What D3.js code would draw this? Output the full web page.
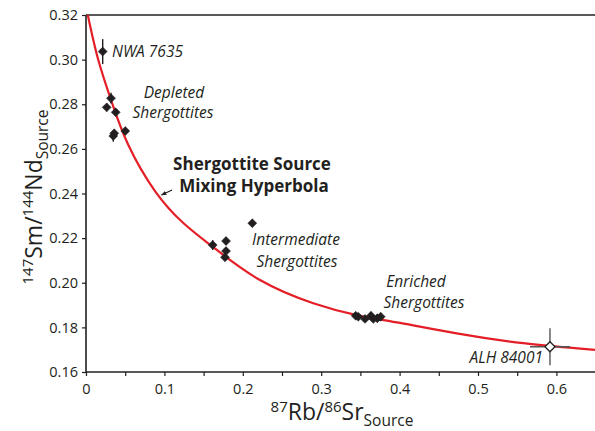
<!DOCTYPE html>
<html><head><meta charset="utf-8">
<script src="https://cdn.jsdelivr.net/npm/d3@7"></script>
<style>
body{margin:0;background:#fff}
svg{display:block}
text{font-family:"Open Sans","Noto Sans",sans-serif;fill:#231f20}
</style>
</head><body>
<svg id="c" width="595" height="431"></svg>
<script>
// ---- data ----
const xTickValues=[0,0.05,0.1,0.15,0.2,0.25,0.3,0.35,0.4,0.45,0.5,0.55,0.6];
const xTickLabels=["0","","0.1","","0.2","","0.3","","0.4","","0.5","","0.6"];
const yTickValues=[0.16,0.18,0.20,0.22,0.24,0.26,0.28,0.30,0.32];
const yTickLabels=["0.16","0.18","0.20","0.22","0.24","0.26","0.28","0.30","0.32"];

// mixing hyperbola
const curveX=[0.0023,0.0157,0.0332,0.054,0.088,0.1241,0.1624,0.2219,0.2899,0.3453,0.4005,0.4728,0.5578,0.6492];
const curveY=[0.3200,0.2998,0.2806,0.2617,0.2411,0.2268,0.2159,0.2012,0.1908,0.1855,0.1820,0.1773,0.1729,0.1699];

// samples
const nwaX=[0.0213], nwaY=[0.3036], nwaYErr=[0.0056];
const depletedX=[0.0319,0.0264,0.0379,0.0348,0.0360,0.0501];
const depletedY=[0.2827,0.2786,0.2764,0.2658,0.2670,0.2680];
const depletedYErr=[0.0024,0.0018,0,0.0026,0,0];
const intermediateX=[0.1616,0.1786,0.1786,0.1773,0.2121];
const intermediateY=[0.2169,0.2187,0.2142,0.2114,0.2267];
const intermediateYErr=[0.0022,0.0018,0,0,0];
const enrichedX=[0.3440,0.3473,0.3559,0.3635,0.3665,0.3716,0.3759];
const enrichedY=[0.1852,0.1848,0.1838,0.1852,0.1838,0.1841,0.1848];
const enrichedYErr=[0,0,0,0.0018,0,0.0018,0.0018];
const alhX=[0.5918], alhY=[0.1713], alhXErr=[0.0255], alhYErr=[0.0083];

// ---- chart ----
const svg=d3.select("#c");
const ink="#231f20";
const x=d3.scaleLinear().domain([0,0.65]).range([86,595.6]);
const y=d3.scaleLinear().domain([0.16,0.32]).range([372,15]);

svg.append("defs").append("clipPath").attr("id","clip")
  .append("rect").attr("x",86).attr("y",15).attr("width",510).attr("height",357);

// top frame line
svg.append("line").attr("x1",86).attr("x2",595).attr("y1",y(0.32)).attr("y2",y(0.32))
  .attr("stroke",ink).attr("stroke-width",1.4);

// axes
const xAxis=d3.axisBottom(x).tickValues(xTickValues).tickSize(4).tickPadding(5)
  .tickFormat((d,i)=>xTickLabels[i]);
const gx=svg.append("g").attr("transform",`translate(0,${y(0.16)})`).call(xAxis);
gx.select(".domain").attr("stroke",ink).attr("stroke-width",1.6).attr("d",`M86,0H595`);
gx.selectAll(".tick line").attr("stroke",ink).attr("stroke-width",1.2);
gx.selectAll(".tick text").style("font-size","14.5px").attr("fill",ink).attr("dy","0.9em");

const yAxis=d3.axisLeft(y).tickValues(yTickValues).tickSize(4).tickPadding(4)
  .tickFormat((d,i)=>yTickLabels[i]);
const gy=svg.append("g").attr("transform",`translate(${x(0)},0)`).call(yAxis);
gy.select(".domain").attr("stroke",ink).attr("stroke-width",1.6).attr("d",`M0,${y(0.16)}V${y(0.32)}`);
gy.selectAll(".tick line").attr("stroke",ink).attr("stroke-width",1.2);
gy.selectAll(".tick text").style("font-size","14.5px").attr("fill",ink);

// curve
const curvePts=curveX.map((v,i)=>[v,curveY[i]]);
svg.append("path").datum(curvePts).attr("clip-path","url(#clip)")
  .attr("d",d3.line().x(d=>x(d[0])).y(d=>y(d[1])).curve(d3.curveNatural))
  .attr("fill","none").attr("stroke","#e41e26").attr("stroke-width",2.2);

// points
function group(xs,ys,yerr,xerr,open){
  const g=svg.append("g");
  xs.forEach((xv,i)=>{
    const cx=x(xv), cy=y(ys[i]);
    if(yerr && yerr[i]) g.append("line").attr("x1",cx).attr("x2",cx)
      .attr("y1",y(ys[i]-yerr[i])).attr("y2",y(ys[i]+yerr[i]))
      .attr("stroke",open?"#555":ink).attr("stroke-width",1.4);
    if(xerr && xerr[i]) g.append("line").attr("y1",cy).attr("y2",cy)
      .attr("x1",x(xv-xerr[i])).attr("x2",x(xv+xerr[i]))
      .attr("stroke",open?"#555":ink).attr("stroke-width",1.4);
  });
  xs.forEach((xv,i)=>{
    g.append("path").attr("d",d3.symbol(d3.symbolSquare,open?50:40)())
      .attr("transform",`translate(${x(xv)},${y(ys[i])}) rotate(45)`)
      .attr("fill",open?"#fff":ink).attr("stroke",ink).attr("stroke-width",open?1.3:0.5);
  });
}
group(nwaX,nwaY,nwaYErr,null,false);
group(depletedX,depletedY,depletedYErr,null,false);
group(intermediateX,intermediateY,intermediateYErr,null,false);
group(enrichedX,enrichedY,enrichedYErr,null,false);
group(alhX,alhY,alhYErr,alhXErr,true);

// labels
function it(t,px,py,anchor){
  svg.append("text").attr("x",px).attr("y",py).attr("text-anchor",anchor||"start")
    .style("font-size","15.5px").style("font-style","italic").text(t);
}
it("NWA 7635",112,57);
it("Depleted",174,98,"middle");
it("Shergottites",173,118,"middle");
it("Intermediate",296,245,"middle");
it("Shergottites",297,267,"middle");
it("Enriched",416,287,"middle");
it("Shergottites",424,308,"middle");
it("ALH 84001",543,363,"end");

function bold(t,px,py){
  svg.append("text").attr("x",px).attr("y",py).attr("text-anchor","middle")
    .style("font-size","17px").style("font-weight","bold").text(t);
}
bold("Shergottite Source",252,170);
bold("Mixing Hyperbola",254,192);

// arrow
svg.append("defs").append("marker").attr("id","ah").attr("viewBox","0 0 10 10")
  .attr("refX",9).attr("refY",5).attr("markerWidth",5).attr("markerHeight",5).attr("orient","auto")
  .append("path").attr("d","M0,1L10,5L0,9Z").attr("fill",ink);
svg.append("line").attr("x1",172).attr("y1",190).attr("x2",161.5).attr("y2",195)
  .attr("stroke",ink).attr("stroke-width",1.1).attr("marker-end","url(#ah)");

// axis titles
const xt=svg.append("text").attr("x",342).attr("y",420).attr("text-anchor","middle").style("font-size","23px");
xt.append("tspan").text("87").style("font-size","15px").attr("dy",-8);
xt.append("tspan").text("Rb/").attr("dy",8);
xt.append("tspan").text("86").style("font-size","15px").attr("dy",-8);
xt.append("tspan").text("Sr").attr("dy",8);
xt.append("tspan").text("Source").style("font-size","15.5px").attr("dy",6);

const yt=svg.append("text").attr("transform","translate(42,197) rotate(-90)").attr("text-anchor","middle").style("font-size","23px");
yt.append("tspan").text("147").style("font-size","15px").attr("dy",-9);
yt.append("tspan").text("Sm/").attr("dy",9);
yt.append("tspan").text("144").style("font-size","15px").attr("dy",-9);
yt.append("tspan").text("Nd").attr("dy",9);
yt.append("tspan").text("Source").style("font-size","15.5px").attr("dy",6);
</script>
</body></html>
